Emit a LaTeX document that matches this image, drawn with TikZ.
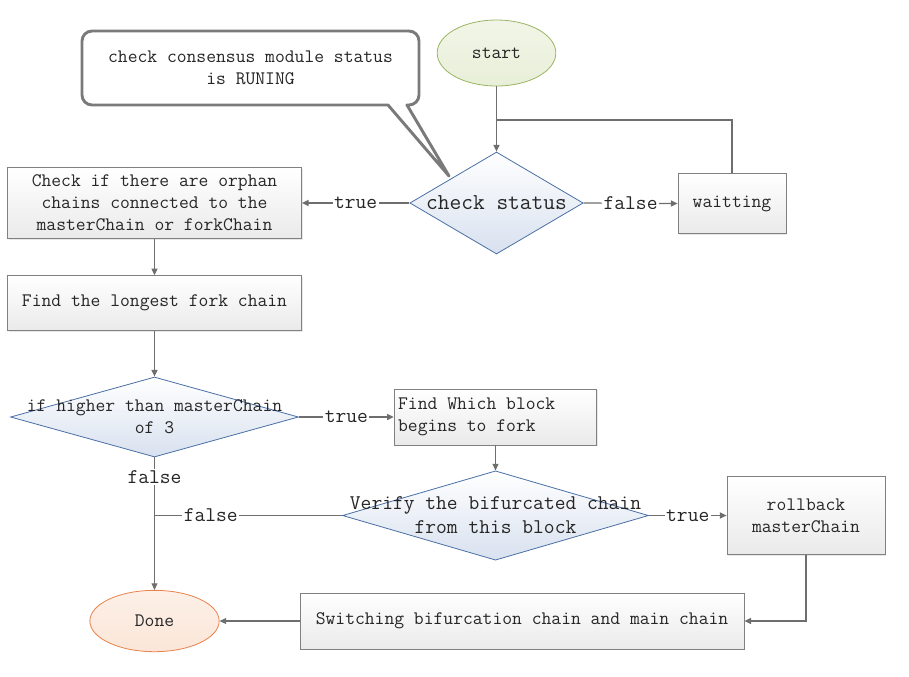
\documentclass[tikz,border=0pt]{standalone}
\usepackage{fontspec}
\usetikzlibrary{arrows.meta, shapes.geometric, shadows}
\usepackage{xcolor}
\definecolor{flowtext}{HTML}{262626}
\definecolor{linegray}{HTML}{6E6E6E}
\definecolor{boxgray}{HTML}{808080}
\definecolor{boxshade}{HTML}{EAEAEA}
\definecolor{diablue}{HTML}{4A6FA5}
\definecolor{diashade}{HTML}{D8E1EF}
\definecolor{startgreen}{HTML}{9BB563}
\definecolor{startfill}{HTML}{E8EFD8}
\definecolor{doneorange}{HTML}{E8834C}
\definecolor{donefill}{HTML}{FBE6D8}
\definecolor{notegray}{HTML}{7A7A7A}
\newcommand{\resetspace}{\spaceskip=0pt\relax}

\begin{document}
\begin{tikzpicture}[
  x=0.75pt, y=-0.75pt,
  font=\ttfamily\fontsize{14.3}{16.5}\selectfont, text=flowtext,
  procbox/.style={rectangle, draw=boxgray, line width=0.6pt,
                  top color=white, bottom color=boxshade,
                  drop shadow={shadow xshift=1pt, shadow yshift=-1pt,
                               opacity=0.18},
                  align=center, inner sep=3pt},
  decide/.style={diamond, draw=diablue, line width=0.6pt,
                 top color=white, bottom color=diashade, inner sep=0pt},
  dtext/.style={align=center, inner sep=0pt},
  startnode/.style={ellipse, draw=startgreen, line width=0.6pt,
                    top color=white!40!startfill, bottom color=startfill},
  donenode/.style={ellipse, draw=doneorange, line width=0.6pt,
                   top color=white!40!donefill, bottom color=donefill},
  notebox/.style={draw=notegray, line width=2.2pt, fill=white,
                  line join=round},
  flowline/.style={draw=linegray, line width=0.9pt},
  flowarrow/.style={flowline, -{Triangle[length=5pt, width=4.5pt]}},
  edgelbl/.style={fill=white, inner sep=1pt,
                  font=\ttfamily\fontsize{15.7}{17}\selectfont}
]
\useasboundingbox (0,0) rectangle (909,676);

% === Note with pointer ===
\draw[notebox] (449,176) -- (388,105) [rounded corners=7.5pt] -- (82,105)
  -- (82,31) -- (419,31) -- (419,105) [sharp corners] -- (407,105) -- cycle;
\node[align=center, inner sep=0pt] (note) at (250.5,68)
  {check consensus module status\\is RUNING};

% === Top row ===
\node[startnode, minimum width=89pt, minimum height=49.5pt] (start)
  at (496.5,53) {start};
\node[decide, minimum width=130pt, minimum height=76.5pt,
      label={[dtext, font=\ttfamily\fontsize{17.1}{19}\selectfont]center:{check status}}]
  (chk) at (496.5,203) {};
\node[procbox, minimum width=81pt, minimum height=45pt] (wait)
  at (732,203.5) {waitting};
\node[procbox, minimum width=220.5pt, minimum height=53pt] (orph)
  at (154.5,203)
  {Check if there are orphan\\chains connected to the\\masterChain or forkChain};
\coordinate (join) at (496.5,120);

% === Left column ===
\node[procbox, minimum width=220pt, minimum height=41pt] (longest)
  at (154.5,303) {Find the longest fork chain};
\node[decide, minimum width=216pt, minimum height=60pt,
      label={[dtext]center:{if higher than masterChain\\of 3}}]
  (cmp) at (154.5,417) {};
\node[donenode, minimum width=97pt, minimum height=46pt] (done)
  at (154.5,621) {Done};

% === Fork handling ===
\node[procbox, text width=146pt, minimum height=42pt, align=left,
      execute at begin node=\resetspace] (which)
  at (495.5,417) {Find Which block\\begins to fork};
\node[decide, minimum width=229.5pt, minimum height=67pt,
      label={[dtext, font=\ttfamily\fontsize{15.7}{18}\selectfont]center:{Verify the bifurcated chain\\from this block}}]
  (verify) at (495.5,515.5) {};
\node[procbox, minimum width=118.5pt, minimum height=58pt] (roll)
  at (806,515.5) {rollback\\masterChain};
\node[procbox, minimum width=333pt, minimum height=42pt] (switch)
  at (522,621) {Switching bifurcation chain and main chain};

% === Connectors ===
\draw[flowarrow] (start) -- (chk);
\draw[flowline] (wait.north) |- (join);
\draw[flowarrow] (chk.east) -- (wait.west) node[edgelbl, pos=0.5] {false};
\draw[flowarrow] (chk.west) -- (orph.east) node[edgelbl, pos=0.5] {true};
\draw[flowarrow] (orph) -- (longest);
\draw[flowarrow] (longest) -- (cmp);
\draw[flowarrow] (cmp.east) -- (which.west) node[edgelbl, pos=0.5] {true};
\draw[flowarrow] (cmp.south) -- (done.north) node[edgelbl, pos=0.15] {false};
\draw[flowarrow] (which) -- (verify);
\draw[flowarrow] (verify.east) -- (roll.west) node[edgelbl, pos=0.5] {true};
\draw[flowline] (verify.west) -- (verify.west -| cmp.south)
  node[edgelbl, pos=0.7] {false};
\draw[flowarrow] (roll.south) |- (switch.east);
\draw[flowarrow] (switch.west) -- (done.east);

\end{tikzpicture}
\end{document}
